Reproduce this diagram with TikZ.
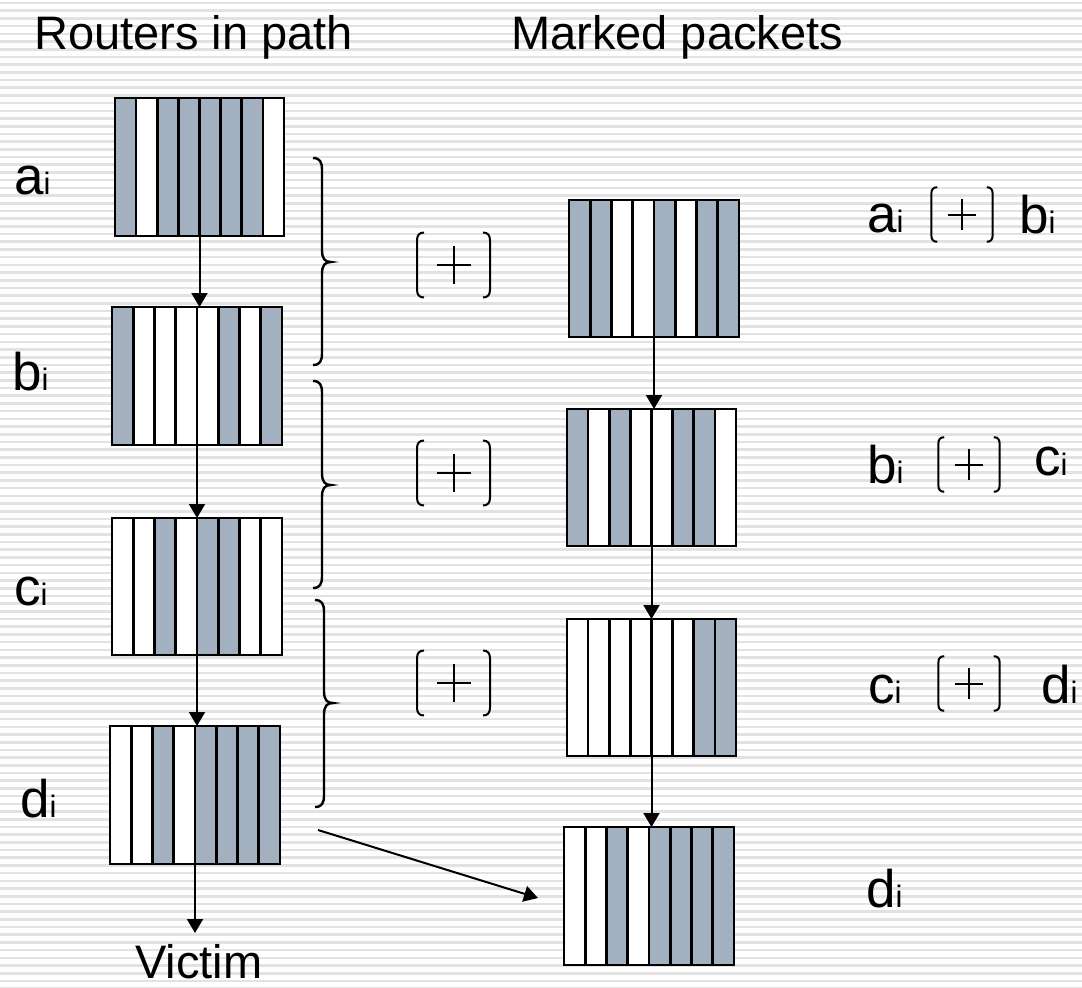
\documentclass[tikz,border=0pt]{standalone}
\usepackage{fontspec}
\setmainfont{Liberation Sans}
\usetikzlibrary{arrows.meta,calc}
\definecolor{pktgray}{HTML}{A2B0BF}
\definecolor{stripecol}{HTML}{E2E2E2}
\newcommand\subi[1]{#1{\fontsize{31}{33}\selectfont i}}
\newcommand\packet[6]{%
  \foreach \c [count=\k from 0] in {#6} {\fill[\c] ({#2+\k*#4/8},#3) rectangle ({#2+(\k+1)*#4/8},{#3+#5});}
  \foreach \k in {1,...,7} {\draw[pkline] ({#2+\k*#4/8},#3) -- ({#2+\k*#4/8},{#3+#5});}
  \node[draw, pkline, minimum width=#4pt, minimum height=#5pt, inner sep=0pt, outer sep=0pt, anchor=north west] (#1) at (#2,#3) {};
}
\newcommand\brc[4]{%
  \draw[brcline] (#1,#2) .. controls ({#1+7},#2) and ({#1+9},{#2+4}) .. ({#1+9},{#2+12})
    -- ({#1+9},{#3-12}) .. controls ({#1+9},{#3-3}) and ({#1+12},#3) .. ({#1+18},#3)
    .. controls ({#1+12},#3) and ({#1+9},{#3+3}) .. ({#1+9},{#3+12})
    -- ({#1+9},{#4-12}) .. controls ({#1+9},{#4-4}) and ({#1+7},#4) .. (#1,#4);
}
\tikzset{
  pkline/.style={line width=2.6pt, draw=black},
  brcline/.style={line width=2.4pt, draw=black},
  arr/.style={line width=2pt, -{Triangle[width=16pt,length=14pt]}},
  title/.style={font=\fontsize{47}{51}\selectfont, inner sep=0pt, anchor=base west},
  lab/.style={font=\fontsize{53}{56}\selectfont, inner sep=0pt, anchor=base west},
  bplus/.pic={
    \draw[line width=2pt] (-29.5,-32.5) .. controls (-34.5,-32.5) and (-36.5,-29.5) .. (-36.5,-24.5)
      -- (-36.5,24.5) .. controls (-36.5,29.5) and (-34.5,32.5) .. (-29.5,32.5);
    \draw[line width=2pt] (29.5,-32.5) .. controls (34.5,-32.5) and (36.5,-29.5) .. (36.5,-24.5)
      -- (36.5,24.5) .. controls (36.5,29.5) and (34.5,32.5) .. (29.5,32.5);
    \draw[line width=2pt] (-17,0) -- (17,0) (0,-19) -- (0,19);
  }
}
\begin{document}
\begin{tikzpicture}[x=1pt,y=-1pt]
\useasboundingbox (0,0) rectangle (1082,988);
\fill[white] (0,0) rectangle (1082,988);
\foreach \i in {0,...,128} {\draw[stripecol, line width=2.6pt] (0,{3+\i*7.7}) -- (1082,{3+\i*7.7});}

% titles
\node[title] (t1) at (34,49) {Routers in path};
\node[title] (t2) at (511,49) {Marked packets};

% left packets
\packet{a}{115}{98}{169}{138}{pktgray,white,pktgray,pktgray,pktgray,pktgray,pktgray,white}
\packet{b}{112}{307}{170}{138}{pktgray,white,white,white,white,pktgray,white,pktgray}
\packet{c}{112}{518}{170}{137}{white,white,pktgray,white,pktgray,pktgray,white,white}
\packet{d}{110}{726}{170}{138}{white,white,pktgray,white,pktgray,pktgray,pktgray,pktgray}

% right packets
\packet{m1}{569}{200}{170}{137}{pktgray,pktgray,white,white,pktgray,white,pktgray,pktgray}
\packet{m2}{567}{409}{169}{137}{pktgray,white,pktgray,white,white,pktgray,pktgray,white}
\packet{m3}{567}{619}{169}{137}{white,white,white,white,white,white,pktgray,pktgray}
\packet{m4}{564}{827}{170}{138}{white,white,pktgray,white,pktgray,pktgray,pktgray,pktgray}

% left labels
\node[lab] (la) at (14,194) {\subi{a}};
\node[lab] (lb) at (12,390) {\subi{b}};
\node[lab] (lc) at (14,605) {\subi{c}};
\node[lab] (ld) at (20,817) {\subi{d}};

% victim
\node[title] (victim) at (135,978) {Victim};

% left arrows
\draw[arr] (a.south) -- (a.south |- b.north);
\draw[arr] (b.south) -- (b.south |- c.north);
\draw[arr] (c.south) -- (c.south |- d.north);
\draw[arr] (d.south) -- ++(0,69);

% right arrows
\draw[arr] (m1.south) -- (m1.south |- m2.north);
\draw[arr] (m2.south) -- (m2.south |- m3.north);
\draw[arr] (m3.south) -- (m3.south |- m4.north);

% diagonal arrow
\coordinate (ds) at (318,830);
\coordinate (de) at (538,898);
\draw[arr] (ds) -- (de);

% braces
\brc{313}{158}{262}{365}
\brc{313}{381}{485}{588}
\brc{315}{600}{703}{807}

% xor symbols in middle
\pic at (453.5,265) {bplus};
\pic at (453.5,473) {bplus};
\pic at (453.5,683) {bplus};

% right labels
\node[lab] (r1a) at (867,232) {\subi{a}};
\pic[scale=0.84] at (962,214.5) {bplus};
\node[lab] (r1b) at (1019,233) {\subi{b}};

\node[lab] (r2b) at (867,483) {\subi{b}};
\pic[scale=0.84] at (969,464.5) {bplus};
\node[lab] (r2c) at (1034,475) {\subi{c}};

\node[lab] (r3c) at (868,703) {\subi{c}};
\pic[scale=0.84] at (969,683.5) {bplus};
\node[lab] (r3d) at (1041,703) {\subi{d}};

\node[lab] (r4d) at (866,907) {\subi{d}};
\end{tikzpicture}
\end{document}
